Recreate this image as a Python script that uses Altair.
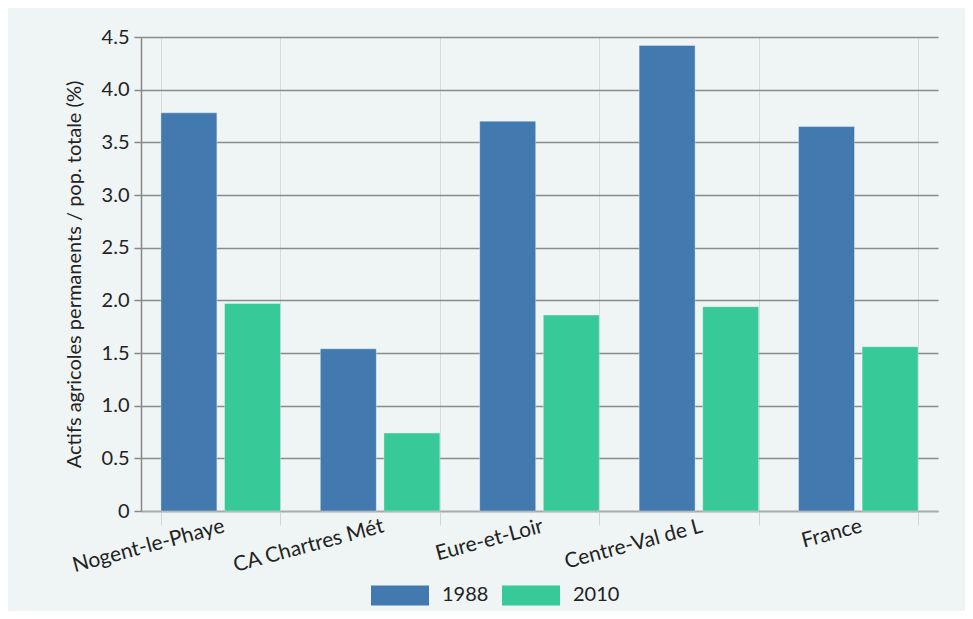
import altair as alt
import pandas as pd

categories = ["Nogent-le-Phaye", "CA Chartres Mét", "Eure-et-Loir", "Centre-Val de L", "France"]
values_1988 = [3.78, 1.54, 3.70, 4.42, 3.65]
values_2010 = [1.97, 0.74, 1.86, 1.94, 1.56]
years = ["1988", "2010"]
colors = ["#427ab0", "#37c998"]

rows = []
for c, a, b in zip(categories, values_1988, values_2010):
    rows.append({"cat": c, "year": years[0], "val": a})
    rows.append({"cat": c, "year": years[1], "val": b})
df = pd.DataFrame(rows)

FONT = "Lato"

chart = alt.Chart(df).mark_bar(stroke="#ffffff", strokeOpacity=0.35, strokeWidth=1).encode(
    x=alt.X("cat:N", sort=categories, title=None,
            scale=alt.Scale(paddingInner=0.25, paddingOuter=0.125),
            axis=alt.Axis(labelAngle=345, labelAlign="right", labelBaseline="top",
                          labelFontSize=21, labelFont=FONT, labelColor="#222222",
                          labelPadding=-10, tickBand="extent", tickSize=14,
                          tickColor="#d0d5d5", grid=True, gridColor="#d6dbdb",
                          gridWidth=1, domainColor="#aaaaaa", domainWidth=1.5)),
    xOffset=alt.XOffset("year:N", scale=alt.Scale(paddingInner=0.12, paddingOuter=0)),
    y=alt.Y("val:Q", title="Actifs agricoles permanents / pop. totale (%)",
            scale=alt.Scale(domain=[0, 4.5], nice=False),
            axis=alt.Axis(values=[0, 0.5, 1, 1.5, 2, 2.5, 3, 3.5, 4, 4.5],
                          labelExpr="datum.value == 0 ? '0' : format(datum.value, '.1f')",
                          labelFontSize=20, labelFont=FONT, labelColor="#222222",
                          titleFont=FONT, titleFontSize=20, titleFontWeight="normal",
                          titleColor="#222222", titlePadding=17,
                          tickSize=7, tickColor="#888888", tickWidth=1.5,
                          gridColor="#8a8a8a", gridWidth=1.5,
                          domainColor="#888888", domainWidth=1.5, labelPadding=5)),
    color=alt.Color("year:N", scale=alt.Scale(domain=years, range=colors),
                    legend=alt.Legend(title=None, orient="none", direction="horizontal",
                                      legendX=230, legendY=529,
                                      symbolType="M-1,-0.345H1V0.345H-1Z",
                                      symbolSize=3364, symbolStrokeWidth=0,
                                      labelFontSize=20, labelFont=FONT, labelColor="#222222",
                                      labelOffset=13, columnPadding=13)),
).properties(
    width=797, height=474,
    autosize=alt.AutoSizeParams(type="none"),
    padding={"left": 133, "top": 29, "right": 27, "bottom": 100},
    background="#eff4f4",
).configure_view(stroke=None)

chart.save("out.html", embed_options={"renderer": "svg", "actions": False})
